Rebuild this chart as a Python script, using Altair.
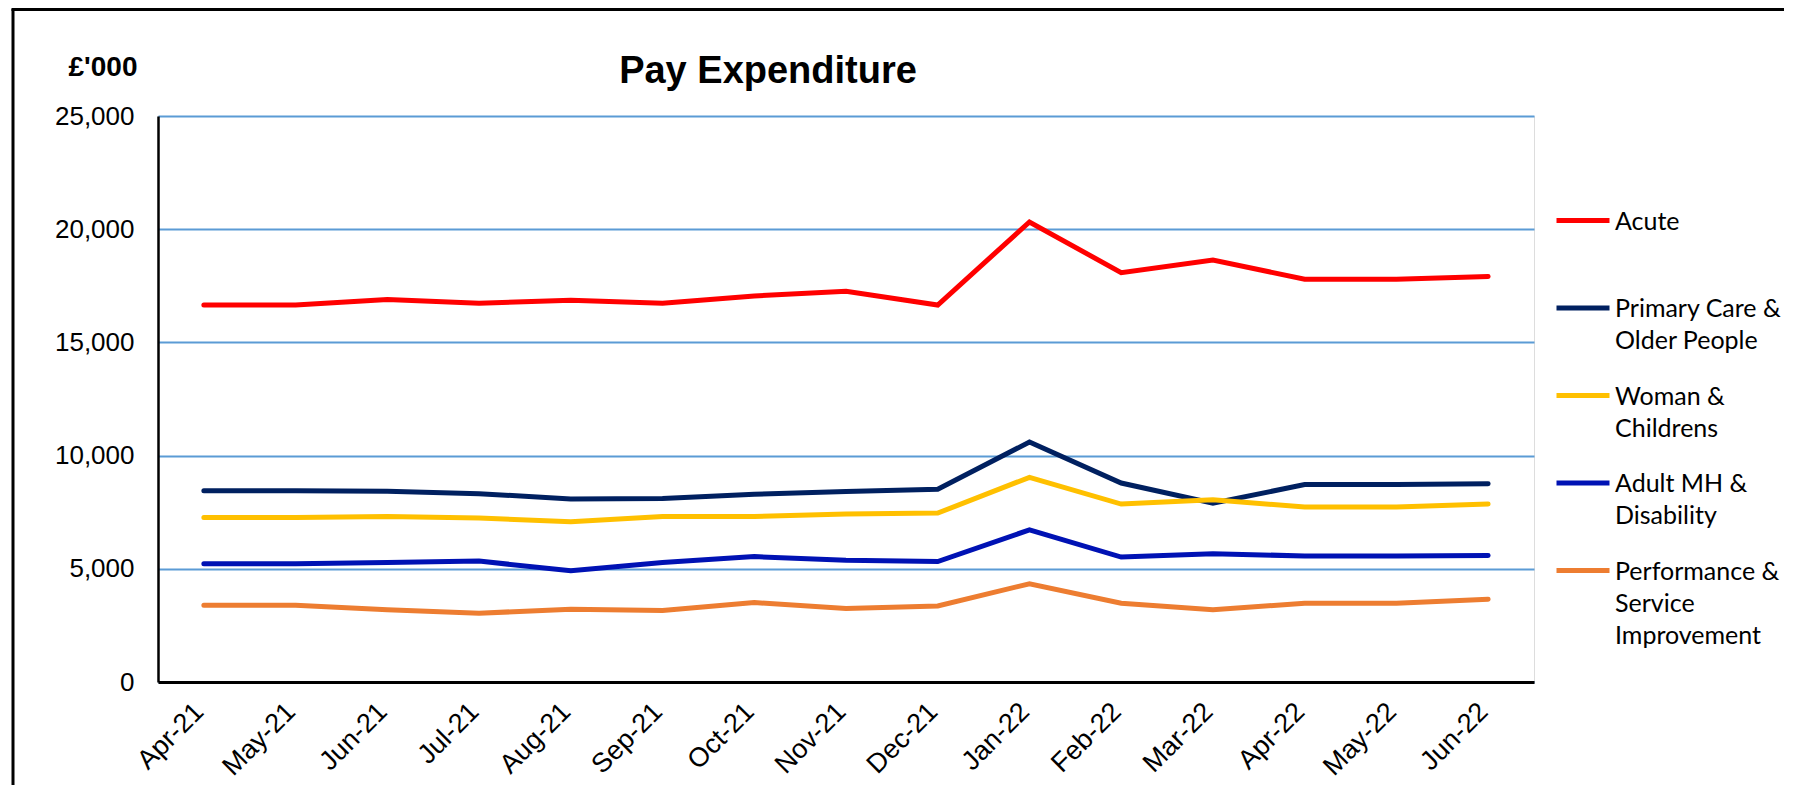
import json
import altair as alt
import pandas as pd

months = ["Apr-21", "May-21", "Jun-21", "Jul-21", "Aug-21", "Sep-21", "Oct-21",
          "Nov-21", "Dec-21", "Jan-22", "Feb-22", "Mar-22", "Apr-22", "May-22", "Jun-22"]
series = ["Acute", "Primary Care & Older People", "Woman & Childrens",
          "Adult MH & Disability", "Performance & Service Improvement"]
legend_lines = [["Acute", ""], ["Primary Care &", "Older People"], ["Woman &", "Childrens"],
                ["Adult MH &", "Disability"], ["Performance &", "Service", "Improvement"]]
colors = ["#FF0000", "#002060", "#FFC000", "#0012B4", "#ED7D31"]

acute = [16650, 16650, 16900, 16730, 16860, 16730, 17050, 17260, 16650, 20320, 18080, 18640, 17790, 17790, 17910]
primary = [8450, 8450, 8420, 8320, 8080, 8100, 8290, 8410, 8510, 10600, 8790, 7900, 8720, 8720, 8760]
woman = [7270, 7270, 7310, 7240, 7080, 7310, 7310, 7420, 7460, 9040, 7860, 8050, 7730, 7730, 7860]
adult = [5220, 5220, 5280, 5340, 4910, 5280, 5540, 5380, 5320, 6720, 5520, 5660, 5570, 5570, 5590]
perf = [3390, 3390, 3190, 3040, 3210, 3160, 3510, 3250, 3360, 4340, 3480, 3190, 3480, 3480, 3660]
y_ticks = [0, 5000, 10000, 15000, 20000, 25000]

rows = []
for s, vals in zip(series, [acute, primary, woman, adult, perf]):
    for m, v in zip(months, vals):
        rows.append({"month": m, "series": s, "value": v})
df = pd.DataFrame(rows)

# legend label expression: split names into lines
expr = "''"
for s, lines in reversed(list(zip(series, legend_lines))):
    expr = "datum.label == %s ? %s : (%s)" % (json.dumps(s), json.dumps(lines), expr)

AX_FONT = "Liberation Sans"

lines = alt.Chart(df).mark_line(strokeWidth=5, strokeCap="round").encode(
    x=alt.X("month:N", sort=months,
            scale=alt.Scale(type="point", padding=0.5),
            axis=alt.Axis(title=None, labelAngle=-45, labelFont=AX_FONT, labelFontSize=27,
                          labelColor="black", ticks=False, tickSize=0, labelPadding=16,
                          labelOffset=-14,
                          domainColor="black", domainWidth=3, grid=False)),
    y=alt.Y("value:Q", scale=alt.Scale(domain=[0, 25000], nice=False),
            axis=alt.Axis(values=y_ticks, format=",.0f", labelFont=AX_FONT, labelFontSize=26,
                          labelColor="black", ticks=False, tickSize=0, labelPadding=24,
                          domainColor="black", domainWidth=2.5,
                          grid=True, gridColor="#5B9BD5", gridWidth=2,
                          title="£'000", titleAngle=0, titleAlign="right", titleBaseline="middle",
                          titleX=-21, titleY=-49, titleFont=AX_FONT, titleFontSize=28,
                          titleFontWeight="bold", titleColor="black")),
    color=alt.Color("series:N", sort=series,
                    scale=alt.Scale(domain=series, range=colors),
                    legend=alt.Legend(title=None, orient="none", legendX=1396, legendY=84.5,
                                      symbolType="M-1,-0.34H1", symbolSize=2809,
                                      symbolStrokeWidth=5, labelFont="Lato", labelFontSize=25,
                                      labelColor="black", labelBaseline="alphabetic",
                                      labelOffset=3, rowPadding=21.5, padding=0, labelLimit=0,
                                      labelExpr=expr)),
)

border_df = pd.DataFrame({"k": [0]})
left_border = alt.Chart(border_df).mark_rule(color="black", strokeWidth=3).encode(
    x=alt.value(-145), y=alt.value(-107), y2=alt.value(680))
top_border = alt.Chart(border_df).mark_rule(color="black", strokeWidth=3).encode(
    x=alt.value(-146.5), x2=alt.value(1640), y=alt.value(-106.5))

chart = alt.layer(lines, left_border, top_border).properties(
    width=1376, height=566,
    title=alt.TitleParams("Pay Expenditure", font=AX_FONT, fontSize=38, fontWeight="bold",
                          color="black", anchor="middle", frame="group", dx=-78, dy=113,
                          offset=0, baseline="alphabetic"),
    autosize=alt.AutoSizeParams(type="none"),
    padding={"left": 150, "top": 108, "right": 250, "bottom": 103},
).configure_view(stroke="#5B9BD5", strokeWidth=2).configure(
    style={"guide-label": {"lineHeight": 32}}
)

chart.save("out.html", embed_options={"renderer": "svg", "actions": False})
